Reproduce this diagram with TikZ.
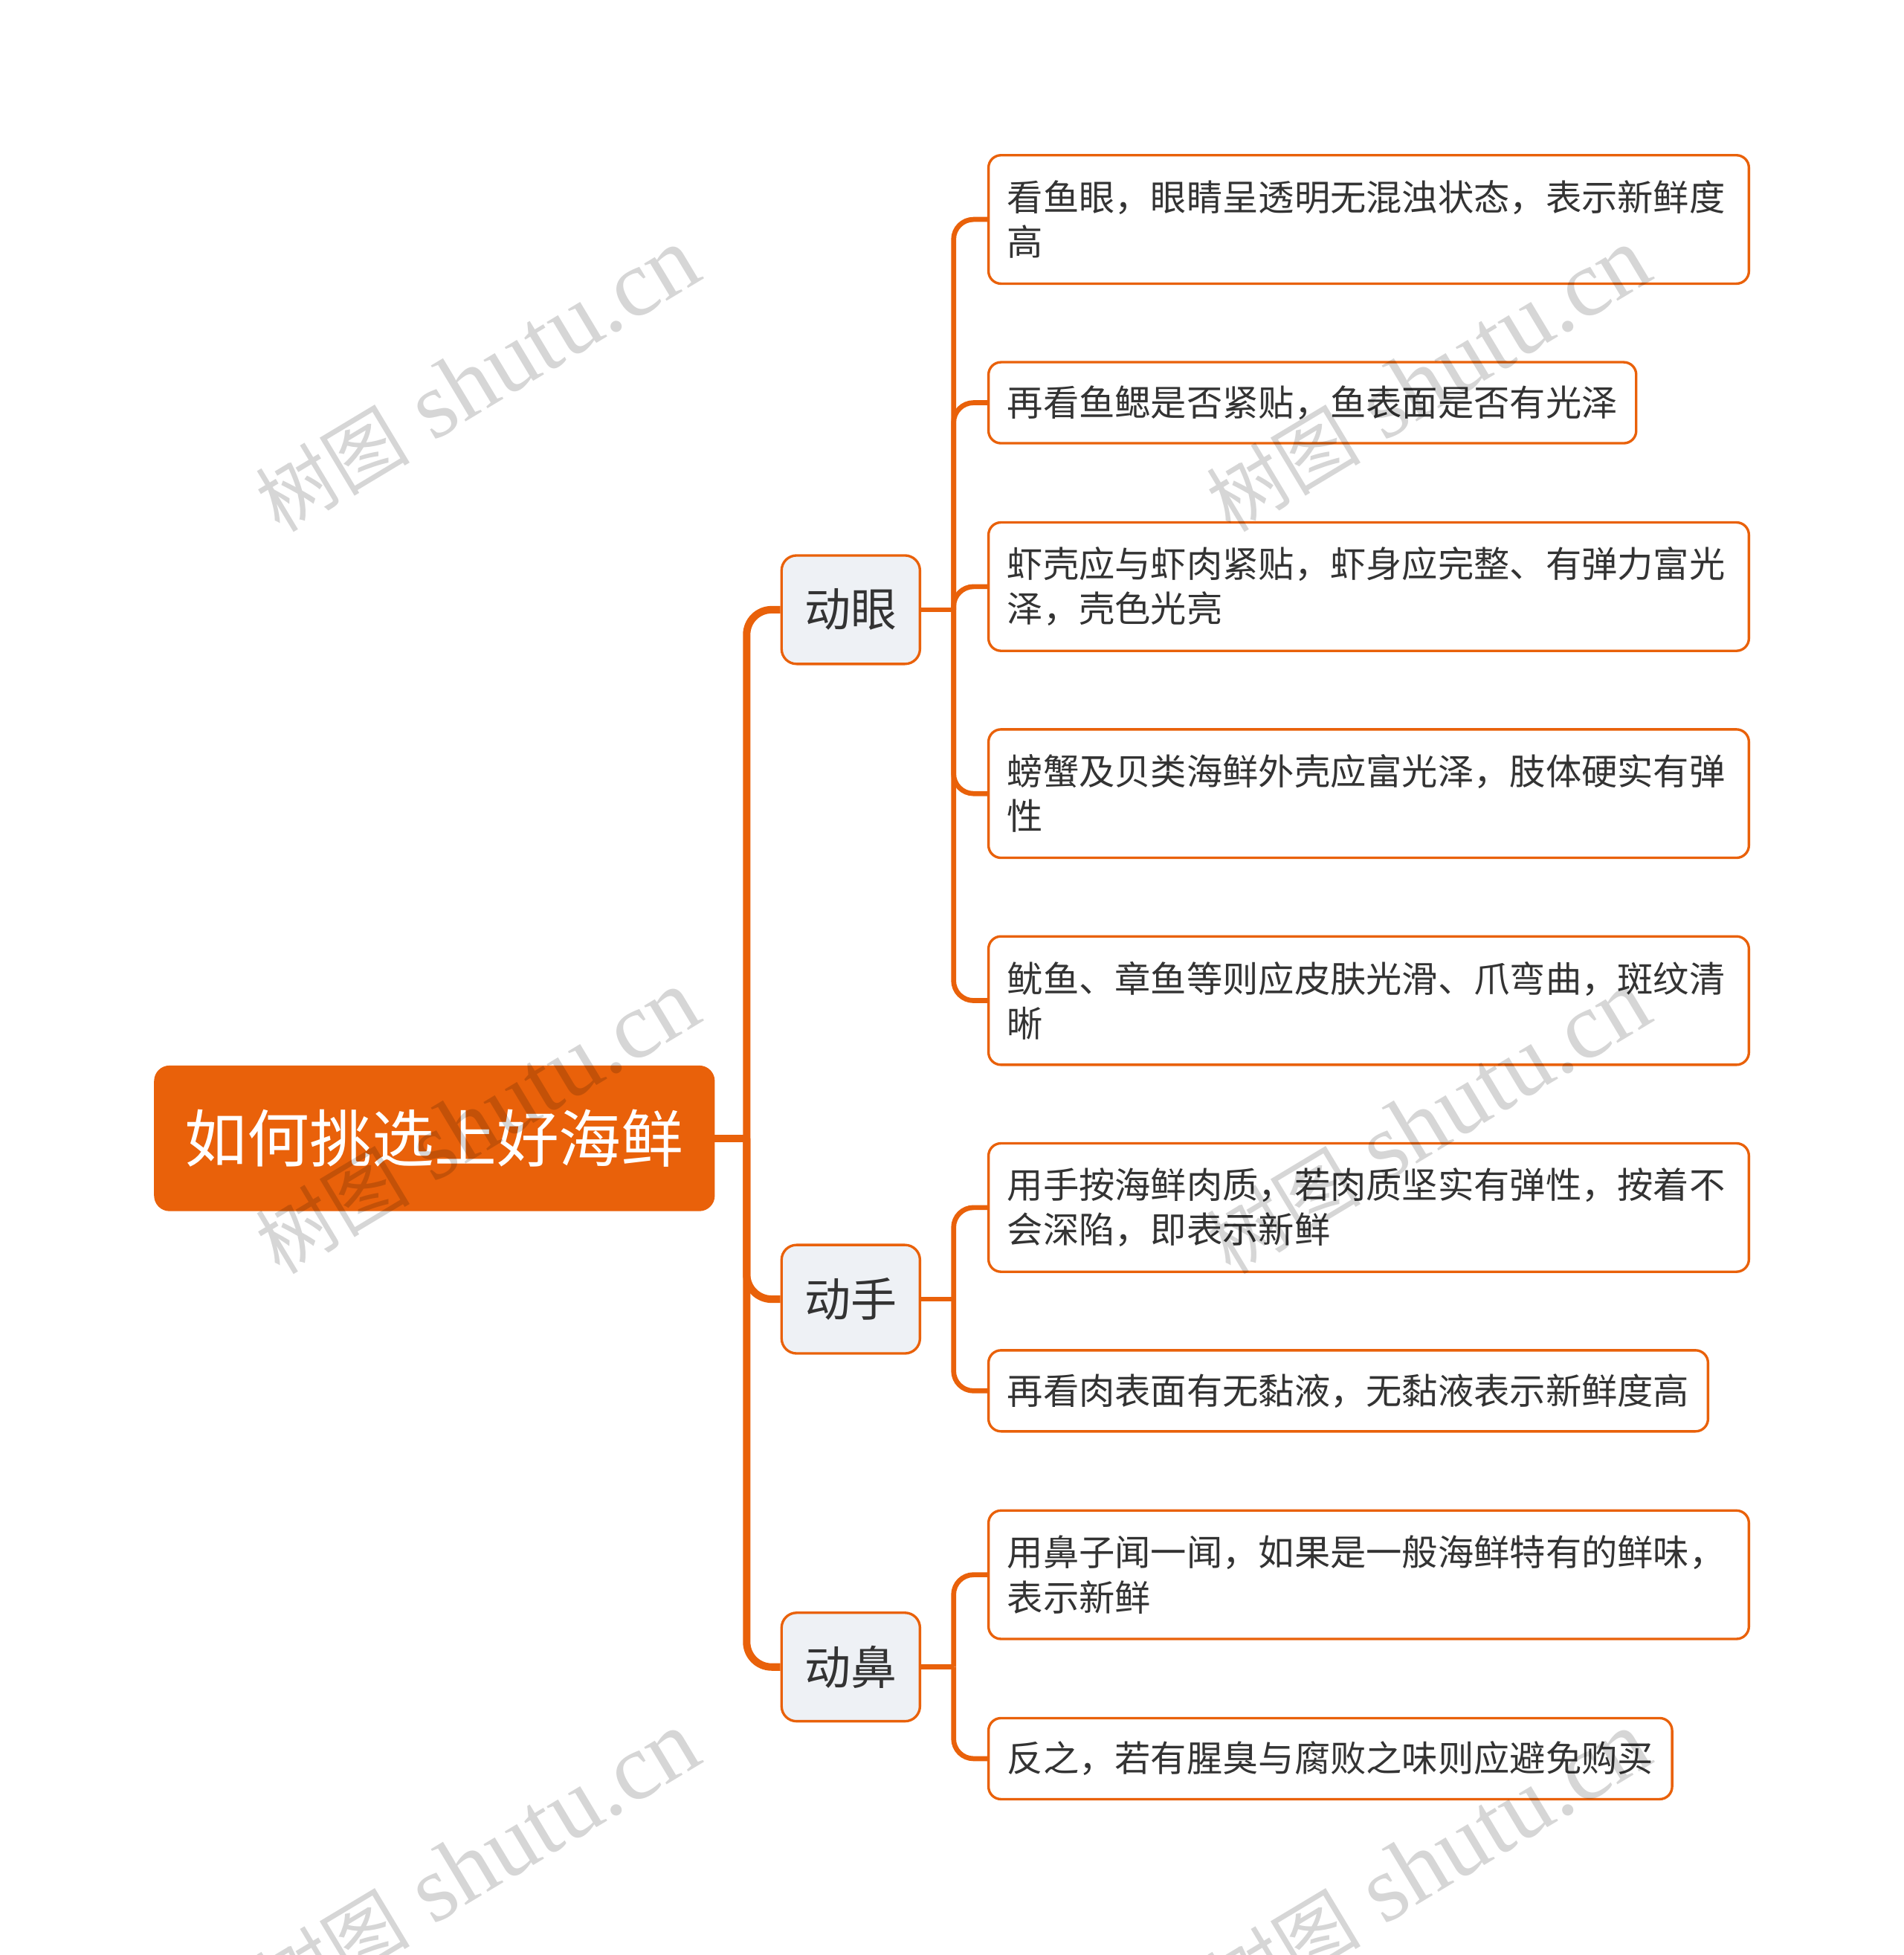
\documentclass[tikz,border=0pt]{standalone}
\usepackage{fontspec}
\setmainfont{Liberation Serif}
\newfontfamily\cjk{Noto Sans CJK SC}

\definecolor{mmorange}{RGB}{233,97,10}
\definecolor{mmgray}{RGB}{238,241,245}
\definecolor{mmtext}{RGB}{51,51,51}

\tikzset{
    rootbox/.style={draw=mmorange, fill=mmorange, rounded corners=6pt, text=white,
        font=\cjk\fontsize{25}{30}\selectfont, minimum width=224.5pt,
        minimum height=58pt, inner sep=0pt},
    topicbox/.style={draw=mmorange, line width=1pt, fill=mmgray, rounded corners=6pt,
        text=mmtext, font=\cjk\fontsize{18.5}{22}\selectfont,
        minimum width=55.5pt, minimum height=43.5pt, inner sep=0pt},
    leafbox/.style={draw=mmorange, line width=1pt, fill=white, rounded corners=5pt,
        text=mmtext, font=\cjk\fontsize{14.4}{18}\selectfont, anchor=west,
        align=left, inner xsep=7.5pt, inner ysep=0pt, minimum height=32.5pt},
    leaftwo/.style={leafbox, text width=290pt, minimum height=51.5pt},
    trunk/.style={draw=mmorange, line width=3pt, rounded corners=10pt},
    twig/.style={draw=mmorange, line width=2pt, rounded corners=8pt},
    wmark/.style={text=black, opacity=0.16, rotate=31, font=\fontsize{38}{42}\selectfont},
}

\begin{document}
\begin{tikzpicture}[x=0.5pt, y=-0.5pt]
    \useasboundingbox (0,0) rectangle (1527,1568);

    % root and the three main branches
    \node[rootbox] (root) at (348.5,913) {如何挑选上好海鲜};
    \node[topicbox] (eye) at (682.5,489) {动眼};
    \node[topicbox] (hand) at (682.5,1042) {动手};
    \node[topicbox] (nose) at (682.5,1337) {动鼻};

    \coordinate (hub) at (599,913);
    \draw[trunk] (root.east) -- (hub);
    \foreach \t in {eye,hand,nose}
        \draw[trunk] (hub) |- (\t.west);

    % leaves of 动眼
    \node[leaftwo] (e1) at (792,176) {看鱼眼，眼睛呈透明无混浊状态，表示新鲜度\\高};
    \node[leafbox] (e2) at (792,323) {再看鱼鳃是否紧贴，鱼表面是否有光泽};
    \node[leaftwo] (e3) at (792,470.5) {虾壳应与虾肉紧贴，虾身应完整、有弹力富光\\泽，壳色光亮};
    \node[leaftwo] (e4) at (792,636.5) {螃蟹及贝类海鲜外壳应富光泽，肢体硬实有弹\\性};
    \node[leaftwo] (e5) at (792,802.5) {鱿鱼、章鱼等则应皮肤光滑、爪弯曲，斑纹清\\晰};

    % leaves of 动手 and 动鼻
    \node[leaftwo] (h1) at (792,968.5) {用手按海鲜肉质，若肉质坚实有弹性，按着不\\会深陷，即表示新鲜};
    \node[leafbox] (h2) at (792,1115.5) {再看肉表面有无黏液，无黏液表示新鲜度高};
    \node[leaftwo] (n1) at (792,1263) {用鼻子闻一闻，如果是一般海鲜特有的鲜味，\\表示新鲜};
    \node[leafbox] (n2) at (792,1410.5) {反之，若有腥臭与腐败之味则应避免购买};

    \coordinate (eyehub) at (765,489);
    \coordinate (handhub) at (765,1042);
    \coordinate (nosehub) at (765,1337);
    \draw[twig] (eye.east) -- (eyehub);
    \draw[twig] (hand.east) -- (handhub);
    \draw[twig] (nose.east) -- (nosehub);
    \foreach \l in {e1,e2,e3,e4,e5}
        \draw[twig] (eyehub) |- (\l.west);
    \foreach \l in {h1,h2}
        \draw[twig] (handhub) |- (\l.west);
    \foreach \l in {n1,n2}
        \draw[twig] (nosehub) |- (\l.west);

    % watermark
    \foreach \x in {383,1146}
        \foreach \y in {305,900,1495}
            \node[wmark] (wm-\x-\y) at (\x,\y) {{\cjk\fontsize{31}{36}\selectfont 树图} shutu.cn};
\end{tikzpicture}
\end{document}
